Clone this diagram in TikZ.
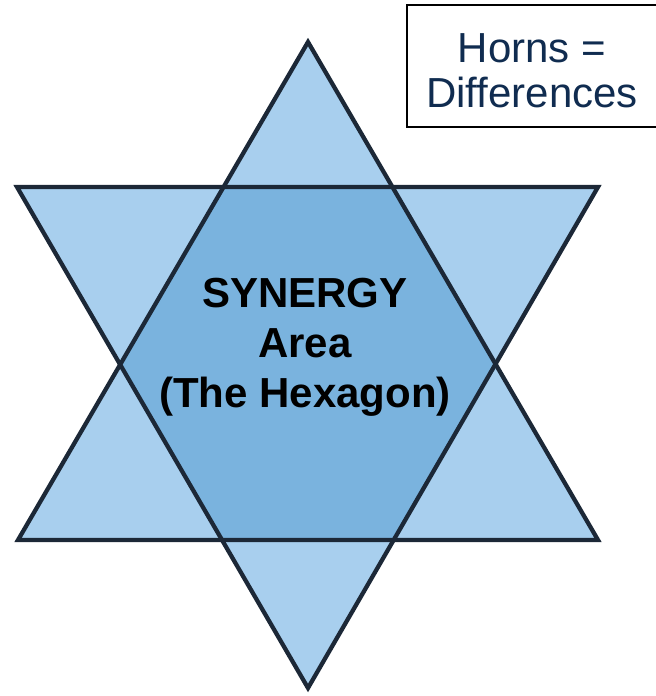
\documentclass[tikz,border=0pt]{standalone}
\usepackage{fontspec}
\setmainfont{Liberation Sans}
\usepackage{xcolor}
\definecolor{starlight}{RGB}{168,207,238}
\definecolor{stardark}{RGB}{122,179,222}
\definecolor{staredge}{RGB}{28,40,55}
\definecolor{hornsnavy}{RGB}{16,44,80}

\begin{document}
\begin{tikzpicture}[x=0.75pt,y=-0.75pt]
    \useasboundingbox (0,0) rectangle (656,696);

    % corners of the two triangles
    \coordinate (up) at (308,42);
    \coordinate (upl) at (18,540);
    \coordinate (upr) at (598,540);
    \coordinate (dnl) at (17,187);
    \coordinate (dnr) at (598,187);
    \coordinate (dn) at (308,688);

    \fill[starlight] (up) -- (upl) -- (upr) -- cycle;
    \fill[starlight] (dnl) -- (dnr) -- (dn) -- cycle;
    \fill[stardark] (intersection of up--upl and dnl--dnr)
        -- (intersection of up--upl and dnl--dn)
        -- (intersection of upl--upr and dnl--dn)
        -- (intersection of upl--upr and dnr--dn)
        -- (intersection of up--upr and dnr--dn)
        -- (intersection of up--upr and dnl--dnr) -- cycle;
    \draw[staredge, line width=3.2pt, line join=miter] (up) -- (upl) -- (upr) -- cycle;
    \draw[staredge, line width=3.2pt, line join=miter] (dnl) -- (dnr) -- (dn) -- cycle;

    \node[align=center, font=\bfseries\fontsize{31.5}{37.5}\selectfont] (synergy) at (305,347) {SYNERGY\\Area\\(The Hexagon)};

    \draw[line width=1.1pt, fill=white] (407,5) rectangle (660,127);
    \node[align=center, text=hornsnavy, font=\fontsize{31.5}{33.75}\selectfont] (horns) at (532,71) {Horns =\\Differences};
\end{tikzpicture}
\end{document}
